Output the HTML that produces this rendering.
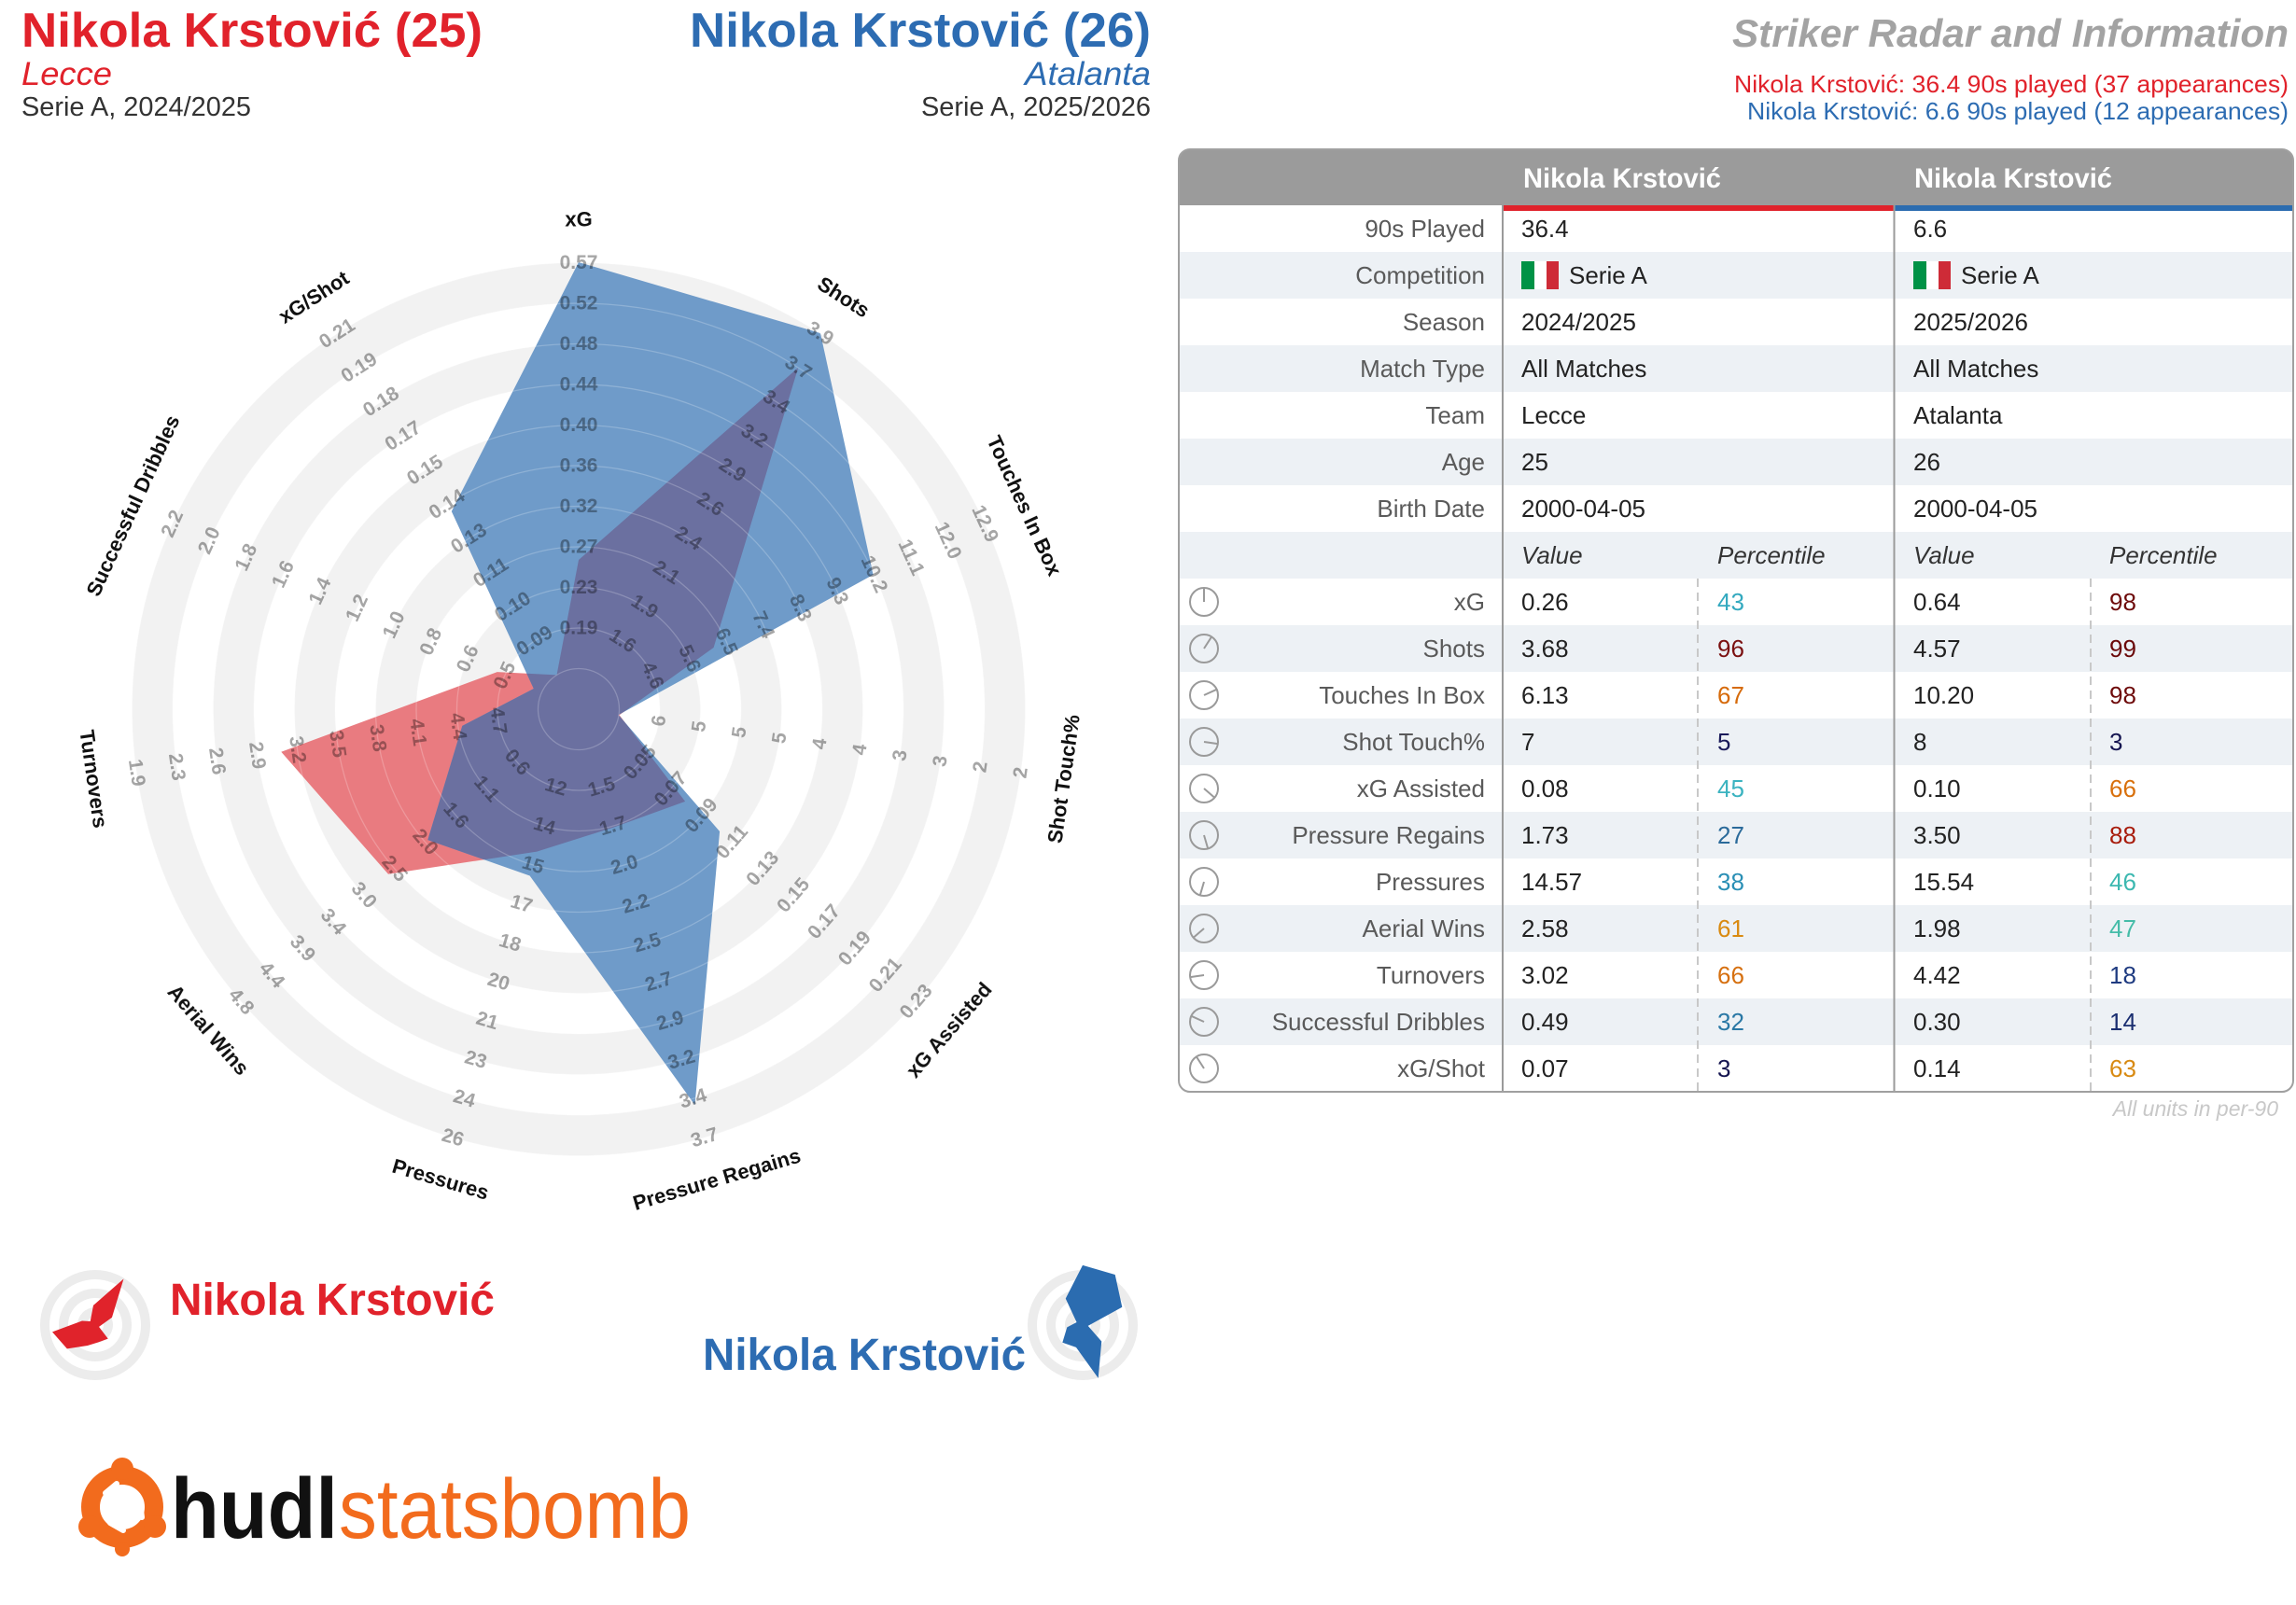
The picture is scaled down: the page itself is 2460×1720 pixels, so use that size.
<!DOCTYPE html>
<html><head><meta charset="utf-8">
<style>
html,body{margin:0;padding:0;background:#fff}
svg{display:block}
text{font-family:"Liberation Sans",Arial,sans-serif}
</style></head>
<body>
<svg width="2460" height="1720" viewBox="0 0 2460 1720" xmlns="http://www.w3.org/2000/svg">
<rect width="2460" height="1720" fill="#fff"/>

<!-- ===== Header left/right ===== -->
<text x="23" y="50" font-size="52" font-weight="bold" fill="#e1222b" textLength="494" lengthAdjust="spacingAndGlyphs">Nikola Krstović (25)</text>
<text x="23" y="91" font-size="35" font-style="italic" fill="#e1222b" textLength="97" lengthAdjust="spacingAndGlyphs">Lecce</text>
<text x="23" y="124" font-size="29" fill="#333" textLength="246" lengthAdjust="spacingAndGlyphs">Serie A, 2024/2025</text>

<text x="1233" y="50" font-size="52" font-weight="bold" fill="#2d6cb2" text-anchor="end" textLength="494" lengthAdjust="spacingAndGlyphs">Nikola Krstović (26)</text>
<text x="1233" y="91" font-size="35" font-style="italic" fill="#2d6cb2" text-anchor="end" textLength="135" lengthAdjust="spacingAndGlyphs">Atalanta</text>
<text x="1233" y="124" font-size="29" fill="#333" text-anchor="end" textLength="246" lengthAdjust="spacingAndGlyphs">Serie A, 2025/2026</text>

<text x="2452" y="50" font-size="42" font-weight="bold" font-style="italic" fill="#a3a3a3" text-anchor="end" textLength="596" lengthAdjust="spacingAndGlyphs">Striker Radar and Information</text>
<text x="2452" y="99" font-size="26" fill="#e1222b" text-anchor="end" textLength="594" lengthAdjust="spacingAndGlyphs">Nikola Krstović: 36.4 90s played (37 appearances)</text>
<text x="2452" y="128" font-size="26" fill="#2d6cb2" text-anchor="end" textLength="580" lengthAdjust="spacingAndGlyphs">Nikola Krstović: 6.6 90s played (12 appearances)</text>

<!-- ===== Radar ===== -->
<defs>
<clipPath id="cb"><polygon points="620,281 879,357 935.6,615.9 662.6,766.1 771.1,891 744.5,1184.1 567.6,938.5 458.3,900.1 495.3,777.9 571.8,738 483.8,548"/></clipPath>
</defs>
<g>
<circle cx="620" cy="760" r="478.5" fill="#f2f2f2"/>
<circle cx="620" cy="760" r="435" fill="#fff"/>
<circle cx="620" cy="760" r="391.5" fill="#f2f2f2"/>
<circle cx="620" cy="760" r="348" fill="#fff"/>
<circle cx="620" cy="760" r="304.5" fill="#f2f2f2"/>
<circle cx="620" cy="760" r="261" fill="#fff"/>
<circle cx="620" cy="760" r="217.5" fill="#f2f2f2"/>
<circle cx="620" cy="760" r="174" fill="#fff"/>
<circle cx="620" cy="760" r="130.5" fill="#f2f2f2"/>
<circle cx="620" cy="760" r="87" fill="#fff"/>
<circle cx="620" cy="760" r="43.5" fill="#f2f2f2"/>
</g>
<polygon points="620,600 855.2,394 764.6,694 663.6,766.3 734.1,858.9 657.2,886.7 575.2,912.6 416,936.8 301.3,805.8 532.7,720.1 596.5,723.4" fill="#e97b80"/>
<polygon points="620,281 879,357 935.6,615.9 662.6,766.1 771.1,891 744.5,1184.1 567.6,938.5 458.3,900.1 495.3,777.9 571.8,738 483.8,548" fill="#6f9bc9"/>
<polygon clip-path="url(#cb)" points="620,600 855.2,394 764.6,694 663.6,766.3 734.1,858.9 657.2,886.7 575.2,912.6 416,936.8 301.3,805.8 532.7,720.1 596.5,723.4" fill="#6b70a0"/>
<g fill="none" stroke="#ffffff" stroke-opacity="0.22" stroke-width="1.3">
<circle cx="620" cy="760" r="478.5"/><circle cx="620" cy="760" r="435"/><circle cx="620" cy="760" r="391.5"/><circle cx="620" cy="760" r="348"/><circle cx="620" cy="760" r="304.5"/><circle cx="620" cy="760" r="261"/><circle cx="620" cy="760" r="217.5"/><circle cx="620" cy="760" r="174"/><circle cx="620" cy="760" r="130.5"/><circle cx="620" cy="760" r="87"/><circle cx="620" cy="760" r="43.5"/>
</g>

<!-- tick labels -->
<g style="mix-blend-mode:multiply" font-size="21" font-weight="bold" fill="#a6a6a6" text-anchor="middle" dominant-baseline="central">
<g transform="translate(620,760) rotate(0)">
<text y="-87">0.19</text><text y="-130.5">0.23</text><text y="-174">0.27</text><text y="-217.5">0.32</text><text y="-261">0.36</text><text y="-304.5">0.40</text><text y="-348">0.44</text><text y="-391.5">0.48</text><text y="-435">0.52</text><text y="-478.5">0.57</text>
</g>
<g transform="translate(620,760) rotate(32.727)">
<text y="-87">1.6</text><text y="-130.5">1.9</text><text y="-174">2.1</text><text y="-217.5">2.4</text><text y="-261">2.6</text><text y="-304.5">2.9</text><text y="-348">3.2</text><text y="-391.5">3.4</text><text y="-435">3.7</text><text y="-478.5">3.9</text>
</g>
<g transform="translate(620,760) rotate(65.455)">
<text y="-87">4.6</text><text y="-130.5">5.6</text><text y="-174">6.5</text><text y="-217.5">7.4</text><text y="-261">8.3</text><text y="-304.5">9.3</text><text y="-348">10.2</text><text y="-391.5">11.1</text><text y="-435">12.0</text><text y="-478.5">12.9</text>
</g>
<g transform="translate(620,760) rotate(-81.818)">
<text y="87">6</text><text y="130.5">5</text><text y="174">5</text><text y="217.5">5</text><text y="261">4</text><text y="304.5">4</text><text y="348">3</text><text y="391.5">3</text><text y="435">2</text><text y="478.5">2</text>
</g>
<g transform="translate(620,760) rotate(-49.091)">
<text y="87">0.05</text><text y="130.5">0.07</text><text y="174">0.09</text><text y="217.5">0.11</text><text y="261">0.13</text><text y="304.5">0.15</text><text y="348">0.17</text><text y="391.5">0.19</text><text y="435">0.21</text><text y="478.5">0.23</text>
</g>
<g transform="translate(620,760) rotate(-16.364)">
<text y="87">1.5</text><text y="130.5">1.7</text><text y="174">2.0</text><text y="217.5">2.2</text><text y="261">2.5</text><text y="304.5">2.7</text><text y="348">2.9</text><text y="391.5">3.2</text><text y="435">3.4</text><text y="478.5">3.7</text>
</g>
<g transform="translate(620,760) rotate(16.364)">
<text y="87">12</text><text y="130.5">14</text><text y="174">15</text><text y="217.5">17</text><text y="261">18</text><text y="304.5">20</text><text y="348">21</text><text y="391.5">23</text><text y="435">24</text><text y="478.5">26</text>
</g>
<g transform="translate(620,760) rotate(49.091)">
<text y="87">0.6</text><text y="130.5">1.1</text><text y="174">1.6</text><text y="217.5">2.0</text><text y="261">2.5</text><text y="304.5">3.0</text><text y="348">3.4</text><text y="391.5">3.9</text><text y="435">4.4</text><text y="478.5">4.8</text>
</g>
<g transform="translate(620,760) rotate(81.818)">
<text y="87">4.7</text><text y="130.5">4.4</text><text y="174">4.1</text><text y="217.5">3.8</text><text y="261">3.5</text><text y="304.5">3.2</text><text y="348">2.9</text><text y="391.5">2.6</text><text y="435">2.3</text><text y="478.5">1.9</text>
</g>
<g transform="translate(620,760) rotate(294.545)">
<text y="-87">0.5</text><text y="-130.5">0.6</text><text y="-174">0.8</text><text y="-217.5">1.0</text><text y="-261">1.2</text><text y="-304.5">1.4</text><text y="-348">1.6</text><text y="-391.5">1.8</text><text y="-435">2.0</text><text y="-478.5">2.2</text>
</g>
<g transform="translate(620,760) rotate(327.273)">
<text y="-87">0.09</text><text y="-130.5">0.10</text><text y="-174">0.11</text><text y="-217.5">0.13</text><text y="-261">0.14</text><text y="-304.5">0.15</text><text y="-348">0.17</text><text y="-391.5">0.18</text><text y="-435">0.19</text><text y="-478.5">0.21</text>
</g>
</g>

<!-- axis titles -->
<g font-size="22" font-weight="bold" fill="#111" text-anchor="middle" dominant-baseline="central">
<g transform="translate(620,760) rotate(0)"><text y="-525">xG</text></g>
<g transform="translate(620,760) rotate(32.727)"><text y="-525">Shots</text></g>
<g transform="translate(620,760) rotate(65.455)"><text y="-525">Touches In Box</text></g>
<g transform="translate(620,760) rotate(-81.818)"><text y="525">Shot Touch%</text></g>
<g transform="translate(620,760) rotate(-49.091)"><text y="525">xG Assisted</text></g>
<g transform="translate(620,760) rotate(-16.364)"><text y="525">Pressure Regains</text></g>
<g transform="translate(620,760) rotate(16.364)"><text y="525">Pressures</text></g>
<g transform="translate(620,760) rotate(49.091)"><text y="525">Aerial Wins</text></g>
<g transform="translate(620,760) rotate(81.818)"><text y="525">Turnovers</text></g>
<g transform="translate(620,760) rotate(294.545)"><text y="-525">Successful Dribbles</text></g>
<g transform="translate(620,760) rotate(327.273)"><text y="-525">xG/Shot</text></g>
</g>

<!-- ===== Legend ===== -->
<g>
<circle cx="102" cy="1420" r="59" fill="#ececec"/>
<circle cx="102" cy="1420" r="49" fill="#fff"/>
<circle cx="102" cy="1420" r="39" fill="#ececec"/>
<circle cx="102" cy="1420" r="29" fill="#fff"/>
<circle cx="102" cy="1420" r="19" fill="#ececec"/>
<circle cx="102" cy="1420" r="9" fill="#fff"/>
<g transform="translate(100,1421) scale(0.138) translate(-620,-760)">
<polygon points="620,600 855.2,394 764.6,694 663.6,766.3 734.1,858.9 657.2,886.7 575.2,912.6 416,936.8 301.3,805.8 532.7,720.1 596.5,723.4" fill="#e0232b"/>
</g>
<text x="182" y="1409" font-size="48" font-weight="bold" fill="#e1222b" textLength="348" lengthAdjust="spacingAndGlyphs">Nikola Krstović</text>

<circle cx="1160" cy="1420" r="59" fill="#ececec"/>
<circle cx="1160" cy="1420" r="49" fill="#fff"/>
<circle cx="1160" cy="1420" r="39" fill="#ececec"/>
<circle cx="1160" cy="1420" r="29" fill="#fff"/>
<circle cx="1160" cy="1420" r="19" fill="#ececec"/>
<circle cx="1160" cy="1420" r="9" fill="#fff"/>
<g transform="translate(1160,1420) scale(0.134) translate(-620,-760)">
<polygon points="620,281 879,357 935.6,615.9 662.6,766.1 771.1,891 744.5,1184.1 567.6,938.5 458.3,900.1 495.3,777.9 571.8,738 483.8,548" fill="#2b6cb0"/>
</g>
<text x="1099" y="1468" font-size="48" font-weight="bold" fill="#2d6cb2" text-anchor="end" textLength="346" lengthAdjust="spacingAndGlyphs">Nikola Krstović</text>
</g>

<!-- ===== hudl statsbomb logo ===== -->
<g>
<circle cx="131" cy="1615" r="34" fill="none" stroke="#f26b1d" stroke-width="20"/>
<circle cx="131" cy="1574" r="12" fill="#f26b1d"/>
<circle cx="96" cy="1636" r="12" fill="#f26b1d"/>
<circle cx="166" cy="1636" r="12" fill="#f26b1d"/>
<path d="M113,1600 L125,1590 M150,1610 L152,1626 M118,1632 L132,1640" stroke="#fff" stroke-width="6" stroke-linecap="round"/>
<circle cx="131" cy="1660" r="8" fill="#f26b1d"/>
<text x="183" y="1648" font-size="92" font-weight="bold" fill="#111" textLength="179" lengthAdjust="spacingAndGlyphs">hudl</text>
<text x="363" y="1648" font-size="90" fill="#f26b1d" textLength="377" lengthAdjust="spacingAndGlyphs">statsbomb</text>
</g>

<!-- ===== Table ===== -->
<g>
<rect x="1263" y="160" width="1194" height="1010" rx="12" fill="#fff"/>
<g fill="#edf1f5">
<rect x="1264" y="270" width="1192" height="50"/>
<rect x="1264" y="370" width="1192" height="50"/>
<rect x="1264" y="470" width="1192" height="50"/>
<rect x="1264" y="570" width="1192" height="50"/>
<rect x="1264" y="670" width="1192" height="50"/>
<rect x="1264" y="770" width="1192" height="50"/>
<rect x="1264" y="870" width="1192" height="50"/>
<rect x="1264" y="970" width="1192" height="50"/>
<rect x="1264" y="1070" width="1192" height="50"/>
</g>
<path d="M1263,220 V172 Q1263,160 1275,160 H2445 Q2457,160 2457,172 V220 Z" fill="#9b9b9b"/>
<rect x="1611" y="220" width="418" height="6" fill="#e0222b"/>
<rect x="2030" y="220" width="426" height="6" fill="#2b6cb0"/>
<line x1="1610" y1="220" x2="1610" y2="1170" stroke="#9a9a9a" stroke-width="2"/>
<line x1="2029.5" y1="220" x2="2029.5" y2="1170" stroke="#9a9a9a" stroke-width="2"/>
<line x1="1819" y1="620" x2="1819" y2="1170" stroke="#c8c8c8" stroke-width="2" stroke-dasharray="9,6"/>
<line x1="2240" y1="620" x2="2240" y2="1170" stroke="#c8c8c8" stroke-width="2" stroke-dasharray="9,6"/>
<rect x="1263" y="160" width="1194" height="1010" rx="12" fill="none" stroke="#a0a0a0" stroke-width="2"/>

<text x="1632" y="201" font-size="30" font-weight="bold" fill="#fff" textLength="212" lengthAdjust="spacingAndGlyphs">Nikola Krstović</text>
<text x="2051" y="201" font-size="30" font-weight="bold" fill="#fff" textLength="212" lengthAdjust="spacingAndGlyphs">Nikola Krstović</text>

<!-- info rows -->
<g font-size="26">
<g fill="#5a5a5a" text-anchor="end">
<text x="1591" y="254">90s Played</text>
<text x="1591" y="304">Competition</text>
<text x="1591" y="354">Season</text>
<text x="1591" y="404">Match Type</text>
<text x="1591" y="454">Team</text>
<text x="1591" y="504">Age</text>
<text x="1591" y="554">Birth Date</text>
<text x="1591" y="654">xG</text>
<text x="1591" y="704">Shots</text>
<text x="1591" y="754">Touches In Box</text>
<text x="1591" y="804">Shot Touch%</text>
<text x="1591" y="854">xG Assisted</text>
<text x="1591" y="904">Pressure Regains</text>
<text x="1591" y="954">Pressures</text>
<text x="1591" y="1004">Aerial Wins</text>
<text x="1591" y="1054">Turnovers</text>
<text x="1591" y="1104">Successful Dribbles</text>
<text x="1591" y="1154">xG/Shot</text>
</g>
<g fill="#222">
<text x="1630" y="254">36.4</text>
<text x="1681" y="304">Serie A</text>
<text x="1630" y="354">2024/2025</text>
<text x="1630" y="404">All Matches</text>
<text x="1630" y="454">Lecce</text>
<text x="1630" y="504">25</text>
<text x="1630" y="554">2000-04-05</text>
<text x="2050" y="254">6.6</text>
<text x="2101" y="304">Serie A</text>
<text x="2050" y="354">2025/2026</text>
<text x="2050" y="404">All Matches</text>
<text x="2050" y="454">Atalanta</text>
<text x="2050" y="504">26</text>
<text x="2050" y="554">2000-04-05</text>
</g>
<g fill="#333" font-style="italic">
<text x="1630" y="604">Value</text>
<text x="1840" y="604">Percentile</text>
<text x="2050" y="604">Value</text>
<text x="2260" y="604">Percentile</text>
</g>
<g fill="#222">
<text x="1630" y="654">0.26</text><text x="2050" y="654">0.64</text>
<text x="1630" y="704">3.68</text><text x="2050" y="704">4.57</text>
<text x="1630" y="754">6.13</text><text x="2050" y="754">10.20</text>
<text x="1630" y="804">7</text><text x="2050" y="804">8</text>
<text x="1630" y="854">0.08</text><text x="2050" y="854">0.10</text>
<text x="1630" y="904">1.73</text><text x="2050" y="904">3.50</text>
<text x="1630" y="954">14.57</text><text x="2050" y="954">15.54</text>
<text x="1630" y="1004">2.58</text><text x="2050" y="1004">1.98</text>
<text x="1630" y="1054">3.02</text><text x="2050" y="1054">4.42</text>
<text x="1630" y="1104">0.49</text><text x="2050" y="1104">0.30</text>
<text x="1630" y="1154">0.07</text><text x="2050" y="1154">0.14</text>
</g>
<g>
<text x="1840" y="654" fill="#33a9bf">43</text><text x="2260" y="654" fill="#6e0a0a">98</text>
<text x="1840" y="704" fill="#7a1010">96</text><text x="2260" y="704" fill="#6a0808">99</text>
<text x="1840" y="754" fill="#d66a0a">67</text><text x="2260" y="754" fill="#6e0a0a">98</text>
<text x="1840" y="804" fill="#1a1a5a">5</text><text x="2260" y="804" fill="#141450">3</text>
<text x="1840" y="854" fill="#3bb3c0">45</text><text x="2260" y="854" fill="#d8700c">66</text>
<text x="1840" y="904" fill="#2a6a9a">27</text><text x="2260" y="904" fill="#a81c0c">88</text>
<text x="1840" y="954" fill="#2a8fb5">38</text><text x="2260" y="954" fill="#3cb8b0">46</text>
<text x="1840" y="1004" fill="#d98a10">61</text><text x="2260" y="1004" fill="#45bca8">47</text>
<text x="1840" y="1054" fill="#d67010">66</text><text x="2260" y="1054" fill="#1e3a80">18</text>
<text x="1840" y="1104" fill="#2a78a5">32</text><text x="2260" y="1104" fill="#1a2e70">14</text>
<text x="1840" y="1154" fill="#141450">3</text><text x="2260" y="1154" fill="#d88a12">63</text>
</g>
</g>

<!-- flags -->
<rect x="1630" y="280" width="14" height="30" fill="#009246"/>
<rect x="1644" y="280" width="13" height="30" fill="#ffffff"/>
<rect x="1657" y="280" width="13" height="30" fill="#ce2b37"/>
<rect x="2050" y="280" width="14" height="30" fill="#009246"/>
<rect x="2064" y="280" width="13" height="30" fill="#ffffff"/>
<rect x="2077" y="280" width="13" height="30" fill="#ce2b37"/>

<!-- icons -->
<g fill="none" stroke="#9a9a9a" stroke-width="2">
<g transform="translate(1290,645)"><circle r="15"/><line x1="0" y1="0" x2="0" y2="-15"/></g>
<g transform="translate(1290,695)"><circle r="15"/><line x1="0" y1="0" x2="8.1" y2="-12.6"/></g>
<g transform="translate(1290,745)"><circle r="15"/><line x1="0" y1="0" x2="13.6" y2="-6.2"/></g>
<g transform="translate(1290,795)"><circle r="15"/><line x1="0" y1="0" x2="14.8" y2="2.1"/></g>
<g transform="translate(1290,845)"><circle r="15"/><line x1="0" y1="0" x2="11.3" y2="9.8"/></g>
<g transform="translate(1290,895)"><circle r="15"/><line x1="0" y1="0" x2="4.2" y2="14.4"/></g>
<g transform="translate(1290,945)"><circle r="15"/><line x1="0" y1="0" x2="-4.2" y2="14.4"/></g>
<g transform="translate(1290,995)"><circle r="15"/><line x1="0" y1="0" x2="-11.3" y2="9.8"/></g>
<g transform="translate(1290,1045)"><circle r="15"/><line x1="0" y1="0" x2="-14.8" y2="2.1"/></g>
<g transform="translate(1290,1095)"><circle r="15"/><line x1="0" y1="0" x2="-13.6" y2="-6.2"/></g>
<g transform="translate(1290,1145)"><circle r="15"/><line x1="0" y1="0" x2="-8.1" y2="-12.6"/></g>
</g>

<text x="2441" y="1196" font-size="23" font-style="italic" fill="#c8c8c8" text-anchor="end">All units in per-90</text>
</g>
</svg>
</body></html>
